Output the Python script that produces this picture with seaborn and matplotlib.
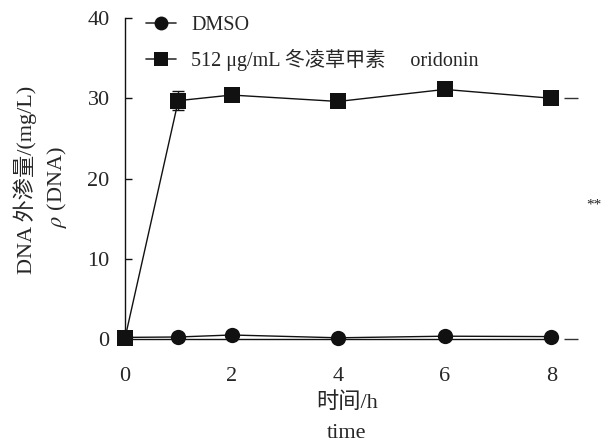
import matplotlib
matplotlib.use("Agg")
import matplotlib.pyplot as plt
import seaborn as sns
import pandas as pd

# ---- data ----
times = [0, 1, 2, 4, 6, 8]
dmso = [0.2, 0.25, 0.5, 0.15, 0.35, 0.3]
dmso_err = [0.1, 0.1, 0.15, 0.1, 0.1, 0.1]
oridonin = [0.1, 29.7, 30.4, 29.6, 31.1, 30.0]
oridonin_err = [0.1, 1.2, 0.4, 0.4, 0.3, 0.3]
series_names = ["DMSO", "512 μg/mL 冬凌草甲素     oridonin"]
x_ticks = [0, 2, 4, 6, 8]
y_ticks = [0, 10, 20, 30, 40]

sns.set_theme(style="white")
plt.rcParams['font.family'] = ['Liberation Serif', 'Noto Sans CJK SC']
plt.rcParams['mathtext.fontset'] = 'stix'

df = pd.DataFrame({
    "time": times * 2,
    "value": dmso + oridonin,
    "group": [series_names[0]] * len(times) + [series_names[1]] * len(times),
})

fig = plt.figure(figsize=(6.09, 4.47), dpi=100)
ax = fig.add_axes([125 / 609, 1 - 339 / 447, (578 - 125) / 609, (339 - 18) / 447])

# error bars
ax.errorbar(times, oridonin, yerr=oridonin_err, fmt='none', ecolor='#222222',
            elinewidth=1, capsize=4, capthick=1, zorder=2, clip_on=False)
ax.errorbar(times, dmso, yerr=dmso_err, fmt='none', ecolor='#222222',
            elinewidth=1, capsize=3, capthick=1, zorder=2, clip_on=False)

sns.lineplot(data=df, x="time", y="value", hue="group", style="group",
             hue_order=series_names, style_order=series_names,
             palette=["#111111", "#111111"], markers=["o", "s"], dashes=False,
             markersize=11, linewidth=1.0, markeredgewidth=0,
             ax=ax, legend=False, zorder=3, clip_on=False)
for line, c in zip(ax.lines, ["#1a1a1a", "#333333"]):
    line.set_color(c)
    line.set_markerfacecolor("#111111")
    line.set_markeredgecolor("#111111")

ax.set_xlim(0, 8.5)
ax.set_ylim(0, 40)
ax.set_xticks(x_ticks)
ax.set_yticks(y_ticks)
ax.set_xticklabels([str(t) for t in x_ticks])
ax.set_yticklabels([str(t) for t in y_ticks])

for s in ["top", "right"]:
    ax.spines[s].set_visible(False)
for s in ["left", "bottom"]:
    ax.spines[s].set_color("#111111")
    ax.spines[s].set_linewidth(1.0)
ax.spines["bottom"].set_bounds(0, 8)

ax.tick_params(axis='y', direction='in', length=5, width=1, color='#111111',
               labelsize=16, pad=11, left=True)
ax.tick_params(axis='x', direction='in', length=4, width=1, color='#111111',
               labelsize=16, pad=20, bottom=True)
ax.set_xlabel("")
ax.set_ylabel("")

# right-side inward ticks
sec = ax.secondary_yaxis('right')
sec.set_yticks([0, 30])
sec.tick_params(direction='in', length=10, width=1, color='#333333', labelright=False)
sec.spines['right'].set_visible(False)

# legend
from matplotlib.lines import Line2D
handles = [
    Line2D([], [], color='#333333', lw=1.2, marker='o', markersize=10,
           markerfacecolor='#111111', markeredgewidth=0),
    Line2D([], [], color='#333333', lw=1.2, marker='s', markersize=10,
           markerfacecolor='#111111', markeredgewidth=0),
]
ax.legend(handles, series_names, loc='upper left',
          bbox_to_anchor=(146 / 609, 1 - 16 / 447), bbox_transform=fig.transFigure,
          frameon=False, fontsize=14.5, borderpad=0, borderaxespad=0,
          handlelength=1.5, handletextpad=0.75, labelspacing=0.68)

# axis labels
fig.text(347 / 609, 1 - 403 / 447, "时间/h", ha='center', va='center', fontsize=16)
fig.text(347 / 609, 1 - 434 / 447, "time", ha='center', va='center', fontsize=16)
fig.text(25 / 609, 1 - 180 / 447, "DNA 外渗量/(mg/L)", ha='center', va='center',
         rotation=90, fontsize=16)
fig.text(57 / 609, 1 - 187 / 447, r"$\rho$ (DNA)", ha='center', va='center',
         rotation=90, fontsize=16)

fig.text(594 / 609, 1 - 205 / 447, "**", ha='center', va='center', fontsize=11,
         color='#222222')

fig.savefig("out.png", dpi=100)
